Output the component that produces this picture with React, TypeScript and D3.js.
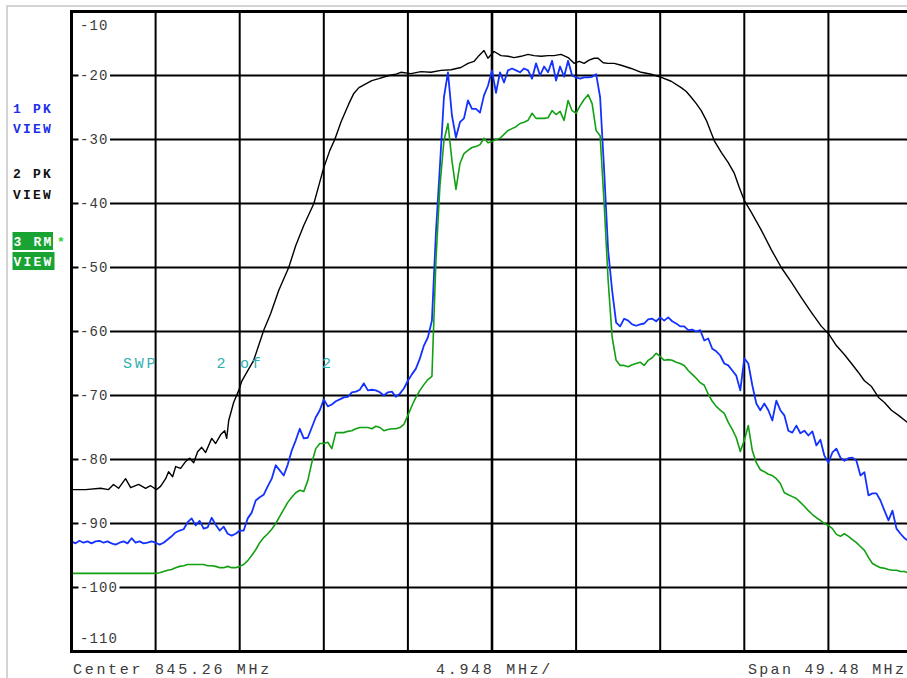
import React from 'react';
import * as d3 from 'd3';

// ---- Analyzer settings (from the screen annotations) ----
const CENTER_MHZ = 845.26;
const SPAN_MHZ = 49.48;
const DIV_MHZ = 4.948;
const REF_TOP_DBM = -10;
const REF_BOTTOM_DBM = -110;
const yTickValues = [-10, -20, -30, -40, -50, -60, -70, -80, -90, -100, -110];
const SWEEP_POINTS = 211;

// ---- Trace 1: PK (blue), levels in dBm at each sweep point ----
const trace1Pk = [
  -92.8, -93.1, -92.7, -93.0, -92.8, -93.1, -92.8, -92.7, -93.0, -92.8,
  -93.1, -93.3, -93.0, -92.8, -93.1, -92.3, -93.0, -92.8, -93.1, -93.0,
  -92.8, -93.0, -93.3, -93.0, -92.5, -92.0, -91.4, -91.1, -90.9, -89.8,
  -89.2, -90.3, -89.6, -90.8, -90.6, -89.1, -90.2, -91.1, -90.5, -91.6,
  -91.9, -91.6, -91.1, -91.1, -89.2, -88.3, -86.4, -85.9, -85.5, -84.2,
  -83.0, -80.9, -81.7, -82.5, -80.8, -78.6, -77.0, -75.2, -76.7, -76.6,
  -75.0, -73.4, -72.3, -70.6, -71.7, -71.4, -70.9, -70.6, -70.3, -70.2,
  -69.5, -69.4, -69.1, -68.1, -69.2, -69.1, -69.2, -69.5, -70.0, -69.5,
  -69.4, -70.2, -69.7, -68.9, -67.7, -66.7, -65.8, -64.2, -62.2, -60.9,
  -58.3, -44.5, -34.1, -23.4, -19.5, -26.25, -29.7, -27.3, -26.7, -23.9,
  -25.2, -25.2, -25.8, -23.1, -21.6, -19.2, -22.7, -19.5, -21.1, -19.2,
  -18.9, -19.2, -19.5, -18.9, -19.2, -20.5, -18.1, -20.0, -18.6, -19.5,
  -17.7, -20.8, -18.6, -20.2, -17.7, -20.0, -20.3, -20.5, -20.3, -20.3,
  -20.2, -19.8, -23.4, -34.8, -47.3, -53.6, -58.6, -59.2, -58.0, -58.3,
  -58.9, -59.1, -58.9, -58.75, -58.1, -58.0, -58.4, -57.8, -58.3, -57.8,
  -58.4, -58.75, -59.2, -59.2, -59.8, -59.7, -60.0, -59.8, -61.4, -61.1,
  -62.7, -63.1, -63.75, -65.0, -65.3, -66.1, -66.9, -69.2, -64.2, -65.0,
  -68.4, -71.25, -72.3, -71.25, -72.3, -73.9, -70.8, -72.3, -73.1, -75.5,
  -75.8, -74.7, -75.9, -75.5, -76.25, -75.6, -77.8, -76.9, -79.4, -80.5,
  -78.9, -78.3, -79.7, -80.2, -79.8, -79.7, -80.2, -82.5, -82.0, -85.6,
  -85.3, -85.3, -86.4, -88.0, -89.5, -88.0, -90.8, -91.6, -92.3, -92.7, -92.8,
];

// ---- Trace 3: RM (green), levels in dBm at each sweep point ----
const trace3Rm = [
  -97.8, -97.8, -97.8, -97.8, -97.8, -97.8, -97.8, -97.8, -97.8, -97.8,
  -97.8, -97.8, -97.8, -97.8, -97.8, -97.8, -97.8, -97.8, -97.8, -97.8,
  -97.8, -97.8, -97.7, -97.5, -97.3, -97.2, -96.9, -96.7, -96.6, -96.4,
  -96.4, -96.4, -96.4, -96.4, -96.6, -96.6, -96.7, -96.9, -96.9, -96.7,
  -96.9, -96.9, -96.7, -96.4, -95.8, -95.0, -94.1, -93.0, -92.2, -91.6,
  -90.9, -90.0, -88.9, -87.8, -86.7, -85.9, -85.2, -84.8, -85.0, -83.3,
  -80.5, -78.3, -77.5, -77.5, -77.3, -78.3, -75.8, -75.8, -75.8, -75.6,
  -75.5, -75.2, -75.0, -75.0, -75.0, -75.2, -74.8, -75.0, -75.5, -75.3,
  -75.2, -75.2, -75.0, -74.5, -73.1, -71.6, -70.3, -69.2, -68.3, -67.5,
  -67.0, -48.9, -37.2, -30.2, -27.5, -33.3, -37.8, -33.75, -32.2, -31.7,
  -31.25, -31.1, -30.8, -29.8, -30.5, -30.3, -30.0, -29.8, -29.2, -28.6,
  -28.3, -28.0, -27.5, -27.3, -27.0, -25.9, -26.7, -26.7, -26.7, -26.6,
  -25.5, -26.1, -25.6, -27.0, -23.9, -25.5, -25.9, -24.7, -23.75, -23.0,
  -24.4, -28.6, -29.4, -40.0, -52.0, -60.9, -64.5, -65.3, -65.3, -65.5,
  -65.2, -65.0, -64.8, -65.3, -64.5, -64.1, -63.4, -63.9, -64.5, -64.4,
  -64.5, -64.8, -65.0, -65.3, -66.1, -66.7, -67.3, -68.0, -68.4, -69.8,
  -70.9, -71.7, -72.3, -72.8, -74.2, -75.3, -76.6, -78.75, -77.0, -74.7,
  -78.6, -80.5, -81.6, -81.9, -82.3, -82.5, -83.0, -83.75, -85.2, -85.5,
  -85.8, -86.1, -86.7, -87.3, -88.0, -88.6, -89.1, -89.5, -90.0, -90.3,
  -90.8, -91.7, -92.0, -91.6, -92.0, -92.5, -93.0, -93.6, -94.2, -95.3,
  -96.25, -96.6, -96.9, -97.0, -97.2, -97.3, -97.3, -97.5, -97.5, -97.7, -97.7,
];

// ---- Trace 2: PK (black), [frequency MHz, level dBm] ----
const trace2Pk: [number, number][] = [
  [820.52, -84.7], [821.34, -84.7], [822.23, -84.5], [822.70, -84.7], [822.99, -83.9],
  [823.29, -84.5], [823.70, -83.0], [824.00, -84.4], [824.47, -83.9], [824.88, -84.5],
  [825.17, -84.1], [825.53, -84.7], [825.76, -84.2], [826.06, -83.0], [826.23, -81.9],
  [826.47, -82.7], [826.65, -81.1], [826.94, -81.4], [827.24, -80.3], [827.47, -79.8],
  [827.71, -80.5], [827.94, -78.8], [828.18, -78.1], [828.41, -78.9], [828.77, -76.7],
  [829.00, -77.5], [829.30, -76.1], [829.53, -75.5], [829.65, -76.7], [829.77, -73.9],
  [830.06, -71.1], [830.36, -69.2], [830.53, -67.8], [830.89, -66.1], [831.24, -64.5],
  [831.83, -59.8], [832.24, -57.2], [832.71, -53.6], [833.30, -50.0], [833.71, -46.6],
  [834.19, -43.4], [834.78, -40.0], [835.07, -37.2], [835.36, -34.4], [835.72, -31.7],
  [836.01, -30.0], [836.37, -27.3], [836.66, -25.5], [836.84, -24.4], [837.13, -22.8],
  [837.43, -21.9], [837.78, -21.4], [838.19, -20.8], [838.60, -20.5], [839.19, -20.0],
  [839.61, -19.8], [839.90, -19.5], [840.49, -19.7], [841.08, -19.4], [841.67, -19.5],
  [842.26, -19.2], [842.85, -19.1], [843.43, -18.75], [843.85, -18.1], [844.20, -17.8],
  [844.49, -16.9], [844.79, -16.1], [845.02, -17.3], [845.38, -16.25], [845.79, -16.9],
  [846.20, -17.0], [846.56, -17.2], [846.97, -17.0], [847.38, -16.7], [847.73, -16.9],
  [848.15, -17.0], [848.56, -16.9], [848.91, -16.9], [849.32, -16.7], [849.74, -17.2],
  [850.09, -18.1], [850.39, -17.8], [850.68, -18.1], [850.97, -17.6], [851.27, -17.3],
  [851.50, -17.3], [851.80, -18.0], [852.09, -18.1], [852.45, -18.1], [852.86, -18.4],
  [853.45, -18.9], [854.04, -19.5], [854.63, -19.8], [855.22, -20.3], [855.80, -20.9],
  [856.39, -21.9], [856.69, -22.5], [856.98, -23.4], [857.28, -24.4], [857.57, -25.5],
  [857.87, -27.0], [858.34, -30.2], [858.75, -32.0], [859.16, -33.6], [859.52, -35.3],
  [859.81, -37.5], [860.10, -39.5], [860.52, -41.4], [861.11, -44.2], [861.69, -47.2],
  [862.28, -50.0], [862.87, -52.3], [863.46, -54.7], [864.05, -57.0], [864.64, -59.2],
  [865.05, -60.3], [865.52, -62.2], [865.99, -63.6], [866.41, -65.0], [866.82, -66.4],
  [867.17, -67.7], [867.59, -68.6], [868.00, -70.3], [868.35, -71.1], [868.76, -72.3],
  [869.18, -73.1], [869.65, -74.1], [870.00, -74.5],
];

const MONO = "'Liberation Mono', 'DejaVu Sans Mono', monospace";

export default function App() {
  const W = 907;
  const H = 678;
  const plotLeft = 71.5;
  const plotRight = 912.5;
  const plotTop = 11.5;
  const plotBottom = 651.5;

  const fStart = CENTER_MHZ - SPAN_MHZ / 2;
  const fStop = CENTER_MHZ + SPAN_MHZ / 2;

  const x = d3.scaleLinear().domain([fStart, fStop]).range([plotLeft, plotRight]);
  const y = d3.scaleLinear().domain([REF_TOP_DBM, REF_BOTTOM_DBM]).range([plotTop, plotBottom]);

  const sweepFreq = d3.range(SWEEP_POINTS).map((i) => fStart + (i * SPAN_MHZ) / (SWEEP_POINTS - 1));
  const xGrid = d3.range(1, 10).map((k) => fStart + k * DIV_MHZ);

  const line = d3
    .line<[number, number]>()
    .x((d) => x(d[0]))
    .y((d) => y(d[1]));

  const blue: [number, number][] = trace1Pk.map((v, i) => [sweepFreq[i], v]);
  const green: [number, number][] = trace3Rm.map((v, i) => [sweepFreq[i], v]);

  const labelColor = '#3a3a3a';

  return (
    <svg
      width={W}
      height={H}
      style={{ position: 'absolute', left: 0, top: 0, background: '#fff' }}
    >
      <defs>
        <clipPath id="plotClip">
          <rect x={plotLeft} y={plotTop} width={plotRight - plotLeft} height={plotBottom - plotTop} />
        </clipPath>
      </defs>
      <rect x={0} y={0} width={W} height={H} fill="#fff" />
      {/* outer light frame */}
      <rect x={7} y={6} width={W + 10} height={H - 4} fill="none" stroke="#d4d4d4" strokeWidth={2} />

      {/* grid */}
      {yTickValues.slice(1, -1).map((v) => (
        <line key={'h' + v} x1={plotLeft} x2={plotRight} y1={y(v)} y2={y(v)} stroke="#000" strokeWidth={2} />
      ))}
      {xGrid.map((f, k) => (
        <line
          key={'v' + k}
          x1={x(f)}
          x2={x(f)}
          y1={plotTop}
          y2={plotBottom}
          stroke="#000"
          strokeWidth={k === 4 ? 2.6 : 2}
        />
      ))}

      {/* y labels */}
      {yTickValues.map((v, i) => {
        const isEnd = i === 0 || i === yTickValues.length - 1;
        const baseline = i === 0 ? 29.5 : i === yTickValues.length - 1 ? 643 : y(v) + 4.6;
        const txt = String(v);
        return (
          <g key={'yl' + v}>
            {!isEnd && <rect x={78.5} y={y(v) - 6} width={txt.length * 9.5 + 3} height={12} fill="#fff" />}
            <text
              x={80}
              y={baseline}
              fontFamily={MONO}
              fontSize={14}
              letterSpacing={1.1}
              fill={labelColor}
            >
              {txt}
            </text>
          </g>
        );
      })}

      {/* traces */}
      <g clipPath="url(#plotClip)" fill="none" strokeLinejoin="round">
        <path d={line(trace2Pk) || ''} stroke="#000" strokeWidth={1.4} />
        <path d={line(blue) || ''} stroke="#1432ff" strokeWidth={1.8} />
        <path d={line(green) || ''} stroke="#12a012" strokeWidth={1.6} />
      </g>

      {/* sweep annotation */}
      <text
        x={123}
        y={368}
        fontFamily={MONO}
        fontSize={15}
        letterSpacing={2.7}
        fill="#2fb0b0"
        style={{ whiteSpace: 'pre' }}
      >
        {'SWP     2 of     2'}
      </text>

      {/* frame */}
      <rect
        x={plotLeft}
        y={plotTop}
        width={plotRight - plotLeft}
        height={plotBottom - plotTop}
        fill="none"
        stroke="#000"
        strokeWidth={3}
      />

      {/* trace legend */}
      <g fontFamily={MONO} fontSize={13} fontWeight="bold" letterSpacing={2.2}>
        <text x={13} y={113} fill="#2030e8">1 PK</text>
        <text x={13} y={133} fill="#2030e8">VIEW</text>
        <text x={13} y={178} fill="#111">2 PK</text>
        <text x={13} y={199} fill="#111">VIEW</text>
        <rect x={12.5} y={232} width={40.5} height={18} fill="#18a332" />
        <text x={13.5} y={245.5} fill="#fff">3 RM</text>
        <text x={57} y={246} fill="#2bd12b" letterSpacing={0}>*</text>
        <rect x={12.5} y={252} width={42} height={18} fill="#18a332" />
        <text x={13.5} y={265.5} fill="#fff">VIEW</text>
      </g>

      {/* bottom annotations */}
      <g fontFamily={MONO} fontSize={15} fill={labelColor}>
        <text x={73} y={673.5} letterSpacing={2.7}>{`Center ${CENTER_MHZ.toFixed(2)} MHz`}</text>
        <text x={436} y={673.5} letterSpacing={2.7}>{`${DIV_MHZ.toFixed(3)} MHz/`}</text>
        <text x={748} y={673.5} letterSpacing={2.3}>{`Span ${SPAN_MHZ.toFixed(2)} MHz`}</text>
      </g>
    </svg>
  );
}
